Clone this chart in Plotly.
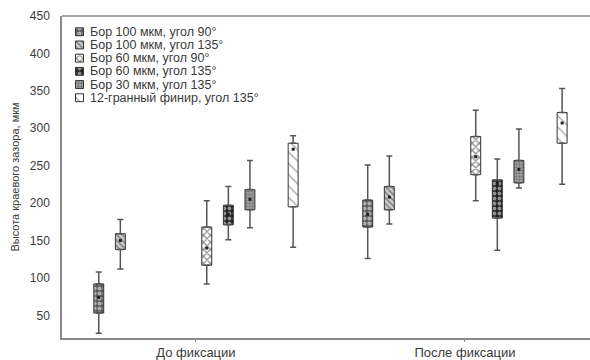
import plotly.graph_objects as go

categories = ["До фиксации", "После фиксации"]
series_names = [
    "Бор 100 мкм, угол 90°",
    "Бор 100 мкм, угол 135°",
    "Бор 60 мкм, угол 90°",
    "Бор 60 мкм, угол 135°",
    "Бор 30 мкм, угол 135°",
    "12-гранный финир, угол 135°",
]
# statistics per series, one value per category
mins = [[26, 126], [112, 172], [92, 203], [151, 137], [167, 220], [141, 225]]
q1s = [[53, 168], [138, 191], [117, 238], [171, 180], [191, 227], [195, 280]]
medians = [[74, 185], [150, 208], [140, 262], [185, 226], [205, 245], [272, 307]]
q3s = [[92, 204], [159, 222], [168, 289], [197, 231], [218, 257], [280, 321]]
maxs = [[108, 251], [178, 263], [203, 324], [222, 259], [257, 299], [290, 353]]
yticks = [50, 100, 150, 200, 250, 300, 350, 400, 450]

# style
slots = [0, 1, 5, 6, 7, 9]          # Statistica-style slot positions in group
SLOT_W = 0.0803
BOX_W = 0.037
patterns = [
    dict(shape=".", fgcolor="#ffffff", bgcolor="#5a5a5a", size=5, solidity=0.55),
    dict(shape="\\", fgcolor="#333333", bgcolor="#cfcfcf", size=4, solidity=0.4),
    dict(shape="x", fgcolor="#222222", bgcolor="#ffffff", size=5, solidity=0.45),
    dict(shape=".", fgcolor="#ffffff", bgcolor="#222222", size=5, solidity=0.45),
    dict(shape=".", fgcolor="#444444", bgcolor="#a8a8a8", size=3, solidity=0.5),
    dict(shape="\\", fgcolor="#555555", bgcolor="#ffffff", size=8, solidity=0.18),
]
FONT = "Liberation Sans, Arial, sans-serif"
TXT = "#3a3a3a"
AX = "#8a8a8a"

W, H = 590, 360
L, R, T, B = 62, 0, 16, 17

fig = go.Figure()
for i, name in enumerate(series_names):
    off = (slots[i] - 4.5) * SLOT_W
    xs = [k + off for k in range(len(categories))]
    # upper whisker
    fig.add_trace(go.Scatter(
        x=xs, y=maxs[i], mode="markers", marker=dict(size=0.1, color="rgba(0,0,0,0)"),
        error_y=dict(type="data", symmetric=False, array=[0] * len(xs),
                     arrayminus=[maxs[i][k] - q3s[i][k] for k in range(len(xs))],
                     color="#555555", thickness=1.5, width=3),
        showlegend=False, hoverinfo="skip"))
    # lower whisker
    fig.add_trace(go.Scatter(
        x=xs, y=mins[i], mode="markers", marker=dict(size=0.1, color="rgba(0,0,0,0)"),
        error_y=dict(type="data", symmetric=False,
                     array=[q1s[i][k] - mins[i][k] for k in range(len(xs))],
                     arrayminus=[0] * len(xs),
                     color="#555555", thickness=1.5, width=3),
        showlegend=False, hoverinfo="skip"))
    # box
    fig.add_trace(go.Bar(
        x=xs, base=q1s[i], y=[q3s[i][k] - q1s[i][k] for k in range(len(xs))],
        width=BOX_W, name=name,
        marker=dict(color=patterns[i]["bgcolor"], pattern=patterns[i],
                    line=dict(color="#333333", width=1)),
        showlegend=False))
    # median point
    fig.add_trace(go.Scatter(
        x=xs, y=medians[i], mode="markers",
        marker=dict(symbol="square", size=3, color="#222222"),
        showlegend=False, hoverinfo="skip"))

# manual compact legend (overlay axes measured in pixels)
LEG_X, LEG_Y0, LEG_DY, ICON = 79.5, 32, 13.4, 8
for i, name in enumerate(series_names):
    yc = LEG_Y0 + i * LEG_DY
    fig.add_trace(go.Bar(
        x=[LEG_X], base=[yc - ICON / 2], y=[ICON], width=ICON,
        xaxis="x2", yaxis="y2",
        marker=dict(color=patterns[i]["bgcolor"], pattern=patterns[i],
                    line=dict(color="#333333", width=1)),
        showlegend=False, hoverinfo="skip"))
    fig.add_annotation(x=LEG_X + ICON / 2 + 4, y=yc, xref="x2", yref="y2",
                       text=name, showarrow=False, xanchor="left", yanchor="middle",
                       font=dict(family=FONT, size=12.5, color=TXT))

fig.add_shape(type="line", xref="paper", yref="paper", x0=0, x1=1, y0=1, y1=1,
              line=dict(color=AX, width=1.5))

fig.update_layout(
    width=W, height=H, margin=dict(l=L, r=R, t=T, b=B),
    paper_bgcolor="white", plot_bgcolor="white", barmode="overlay",
    showlegend=False,
    font=dict(family=FONT, color=TXT),
    xaxis=dict(range=[-0.498, 1.465], tickvals=list(range(len(categories))),
               ticktext=categories, showgrid=False, zeroline=False,
               showline=True, linecolor=AX, linewidth=1.5,
               ticks="outside", ticklen=2, tickcolor=AX,
               ticklabelstandoff=0,
               tickfont=dict(family=FONT, size=13, color=TXT)),
    yaxis=dict(range=[19.7, 450], tickvals=yticks, showgrid=False, zeroline=False,
               showline=True, linecolor=AX, linewidth=1.5, ticks="",
               ticklabelstandoff=8,
               tickfont=dict(family=FONT, size=12, color=TXT),
               title=dict(text="Высота краевого зазора, мкм", standoff=8,
                          font=dict(family=FONT, size=11, color=TXT))),
    xaxis2=dict(overlaying="x", range=[L, W - R], visible=False),
    yaxis2=dict(overlaying="y", range=[H - B, T], visible=False),
)

fig.write_html(
    "out.html",
    config={"displayModeBar": False},
    post_script="document.body.style.margin='0';document.body.style.overflow='hidden';",
)
